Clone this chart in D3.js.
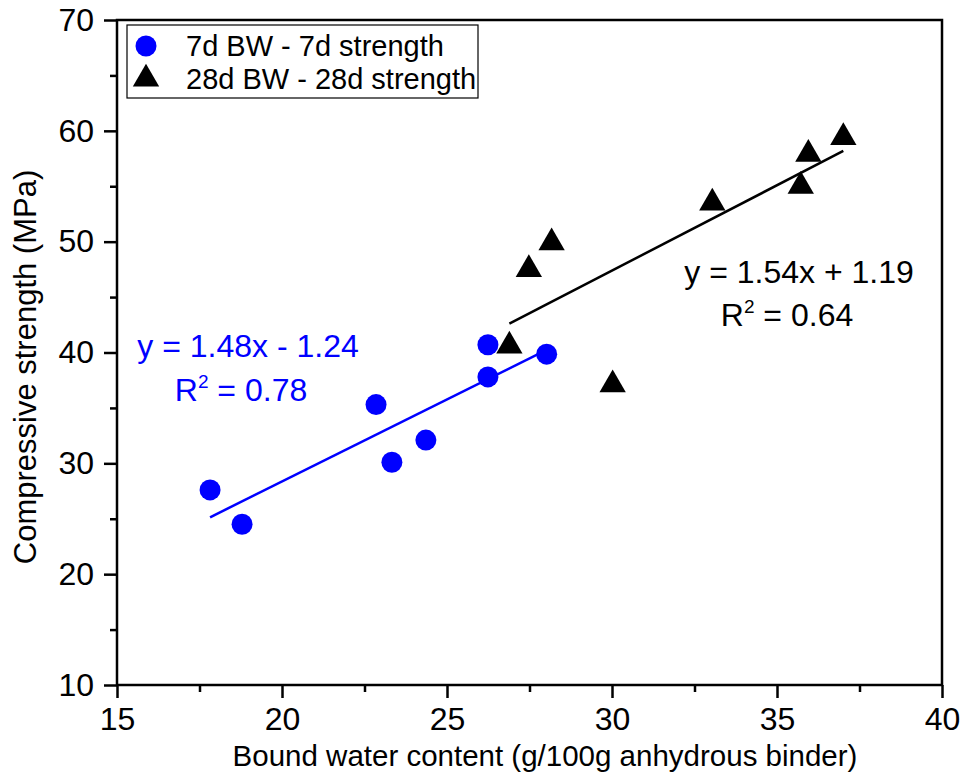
<!DOCTYPE html>
<html><head><meta charset="utf-8">
<script src="https://cdn.jsdelivr.net/npm/d3@7"></script>
<style>
body{margin:0;background:#fff;}
svg text{font-family:"Liberation Sans",Arial,sans-serif;}
</style></head>
<body><svg id="c" width="964" height="782"></svg>
<script>
const bw7 = [17.82, 18.79, 22.85, 23.33, 24.36, 26.24, 26.24, 28.02];
const str7 = [27.6, 24.5, 35.3, 30.1, 32.1, 40.7, 37.8, 39.85];
const bw28 = [37.01, 35.95, 35.72, 33.04, 28.17, 27.48, 26.89, 30.02];
const str28 = [59.4, 57.9, 55.0, 53.5, 49.9, 47.5, 40.6, 37.1];
const fit7 = {slope:1.48, intercept:-1.24, r2:"0.78", label:"y = 1.48x - 1.24"};
const fit28 = {slope:1.54, intercept:1.19, r2:"0.64", label:"y = 1.54x + 1.19"};
const xTicks = [15,20,25,30,35,40];
const yTicks = [10,20,30,40,50,60,70];
const legendLabels = ["7d BW - 7d strength","28d BW - 28d strength"];

const svg = d3.select("#c");
const L=117, R=942, T=20, B=685;
const x = d3.scaleLinear().domain([15,40]).range([L,R]);
const y = d3.scaleLinear().domain([10,70]).range([B,T]);
const TFS = 32, EFS = 32, LFS = 29;

// minor ticks
const gxm = svg.append("g").attr("transform",`translate(0,${B})`)
  .call(d3.axisBottom(x).tickValues(d3.range(17.5,40,5)).tickSize(7).tickFormat(""));
const gym = svg.append("g").attr("transform",`translate(${L},0)`)
  .call(d3.axisLeft(y).tickValues(d3.range(15,70,10)).tickSize(7).tickFormat(""));
const gx = svg.append("g").attr("transform",`translate(0,${B})`)
  .call(d3.axisBottom(x).tickValues(xTicks).tickSize(13).tickPadding(9).tickFormat(d3.format("d")));
const gy = svg.append("g").attr("transform",`translate(${L},0)`)
  .call(d3.axisLeft(y).tickValues(yTicks).tickSize(13).tickPadding(10).tickFormat(d3.format("d")));
[gxm,gym,gx,gy].forEach(g=>{
  g.selectAll(".domain").remove();
  g.selectAll("line").attr("stroke","#000").attr("stroke-width",2.5);
  g.selectAll("text").attr("font-size",TFS).attr("fill","#000").attr("font-family","Liberation Sans, Arial, sans-serif");
});
// frame
svg.append("rect").attr("x",L).attr("y",T).attr("width",R-L).attr("height",B-T)
  .attr("fill","none").attr("stroke","#000").attr("stroke-width",2.5);

// axis titles
svg.append("text").attr("x",545).attr("y",766).attr("text-anchor","middle")
  .attr("font-size",29.5).text("Bound water content (g/100g anhydrous binder)");
svg.append("text").attr("transform","translate(36,367) rotate(-90)").attr("text-anchor","middle")
  .attr("font-size",31).text("Compressive strength (MPa)");

// fit lines
function fitLine(xs, f, color){
  const x0=d3.min(xs), x1=d3.max(xs);
  svg.append("line").attr("x1",x(x0)).attr("y1",y(f.slope*x0+f.intercept))
    .attr("x2",x(x1)).attr("y2",y(f.slope*x1+f.intercept))
    .attr("stroke",color).attr("stroke-width",2.5);
}
fitLine(bw7, fit7, "#0000ff");
fitLine(bw28, fit28, "#000");

// points
const tri = d3.symbol().type(d3.symbolTriangle).size(300);
svg.append("g").selectAll("path").data(bw28.map((v,i)=>[v,str28[i]])).join("path")
  .attr("d",tri).attr("transform",d=>`translate(${x(d[0])},${y(d[1])})`).attr("fill","#000");
svg.append("g").selectAll("circle").data(bw7.map((v,i)=>[v,str7[i]])).join("circle")
  .attr("cx",d=>x(d[0])).attr("cy",d=>y(d[1])).attr("r",10.5).attr("fill","#0000ff");

// equations
function eq(f, cx1, by1, cx2, by2, color){
  svg.append("text").attr("x",cx1).attr("y",by1).attr("text-anchor","middle")
    .attr("font-size",EFS).attr("fill",color).text(f.label);
  const t = svg.append("text").attr("x",cx2).attr("y",by2).attr("text-anchor","middle")
    .attr("font-size",EFS).attr("fill",color);
  t.append("tspan").text("R");
  t.append("tspan").attr("font-size",19).attr("dy",-13).text("2");
  t.append("tspan").attr("dy",13).text(" = "+f.r2);
}
eq(fit7, 248, 357, 241, 401, "#0000ff");
eq(fit28, 799, 283, 787, 326, "#000");

// legend
const lg = svg.append("g");
lg.append("rect").attr("x",127).attr("y",25).attr("width",351).attr("height",73)
  .attr("fill","#fff").attr("stroke","#000").attr("stroke-width",1.2);
lg.append("circle").attr("cx",146).attr("cy",46).attr("r",10.5).attr("fill","#0000ff");
lg.append("path").attr("d",tri).attr("transform","translate(146,79)").attr("fill","#000");
lg.append("text").attr("x",186).attr("y",56).attr("font-size",LFS).text(legendLabels[0]);
lg.append("text").attr("x",186).attr("y",89).attr("font-size",LFS).text(legendLabels[1]);
</script></body></html>
